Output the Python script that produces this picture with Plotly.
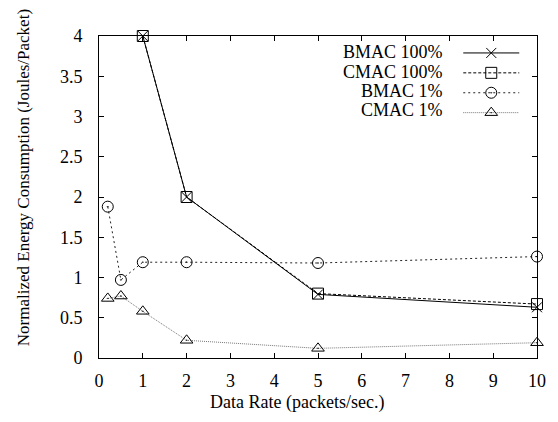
import plotly.graph_objects as go

# ---- data ----
rates = [0.2, 0.5, 1, 2, 5, 10]
rates_100 = [1, 2, 5, 10]
bmac_100 = [4.0, 2.0, 0.79, 0.63]
cmac_100 = [4.0, 2.0, 0.80, 0.67]
bmac_1 = [1.88, 0.97, 1.19, 1.19, 1.18, 1.26]
cmac_1 = [0.74, 0.77, 0.58, 0.22, 0.12, 0.19]
series_names = ["BMAC 100%", "CMAC 100%", "BMAC 1%", "CMAC 1%"]
x_ticks = list(range(0, 11))
y_ticks = [0, 0.5, 1, 1.5, 2, 2.5, 3, 3.5, 4]
y_tick_text = ["0", "0.5", "1", "1.5", "2", "2.5", "3", "3.5", "4"]

FONT = "Liberation Serif"

fig = go.Figure()
specs = [
    (rates_100, bmac_100, dict(color="black", width=1, dash="solid"),
     dict(symbol="x-thin-open", size=10, line=dict(color="black", width=1))),
    (rates_100, cmac_100, dict(color="black", width=1, dash="3px,2px"),
     dict(symbol="square-open", size=11, color="black", line=dict(color="black", width=1))),
    (rates, bmac_1, dict(color="#222", width=1, dash="2px,3px"),
     dict(symbol="circle-open-dot", size=11, color="black", line=dict(color="black", width=1))),
    (rates, cmac_1, dict(color="#777", width=1, dash="1px,1px"),
     dict(symbol="triangle-up-open-dot", size=11, color="black", line=dict(color="black", width=1))),
]
for (xs, ys, ln, mk) in specs:
    fig.add_trace(go.Scatter(x=xs, y=ys, mode="lines+markers", line=ln, marker=mk,
                             name=" ", cliponaxis=False, showlegend=True))

W, H = 558, 422
plot_left, plot_right, plot_top, plot_bottom = 99, 544, 36, 358
L, R, T, B = plot_left, W - plot_right, plot_top, H - plot_bottom
pw, ph = plot_right - plot_left, plot_bottom - plot_top

def xp(px):
    return (px - plot_left) / pw

def yp(py):
    return (plot_bottom - py) / ph

annotations = []
row_y = [51.7, 71.7, 91, 110]
for name, ry in zip(series_names, row_y):
    annotations.append(dict(text=name, x=xp(451), y=yp(ry), xref="paper", yref="paper",
                            xanchor="right", yanchor="middle", showarrow=False,
                            font=dict(family=FONT, size=18, color="black")))
annotations.append(dict(text="Data Rate (packets/sec.)", x=xp(300), y=yp(402),
                        xref="paper", yref="paper", xanchor="center", yanchor="middle",
                        showarrow=False, font=dict(family=FONT, size=18, color="black")))
annotations.append(dict(text="Normalized Energy Consumption (Joules/Packet)", x=xp(22), y=yp(178),
                        xref="paper", yref="paper", xanchor="center", yanchor="middle",
                        textangle=-90, showarrow=False,
                        font=dict(family=FONT, size=17, color="black")))

axis_common = dict(showgrid=False, zeroline=False, showline=True, linecolor="black",
                   linewidth=1, mirror="ticks", ticks="inside", ticklen=5,
                   tickcolor="black", tickwidth=1,
                   tickfont=dict(family=FONT, size=18, color="black"))

fig.update_layout(
    width=W, height=H,
    margin=dict(l=L, r=R, t=T, b=B),
    paper_bgcolor="white", plot_bgcolor="white",
    xaxis=dict(range=[0, 10], tickvals=x_ticks, ticklabelstandoff=6, **axis_common),
    yaxis=dict(range=[0, 4], tickvals=y_ticks, ticktext=y_tick_text, ticklabelstandoff=12,
               **axis_common),
    showlegend=True,
    legend=dict(x=xp(464), y=yp(38), xanchor="left", yanchor="top",
                bgcolor="rgba(0,0,0,0)", borderwidth=0, itemwidth=56,
                font=dict(family=FONT, size=13), tracegroupgap=0, itemclick=False),
    annotations=annotations,
)

fig.write_html("out.html",
               config={"displayModeBar": False},
               post_script="document.body.style.margin='0';document.body.style.overflow='hidden';")
